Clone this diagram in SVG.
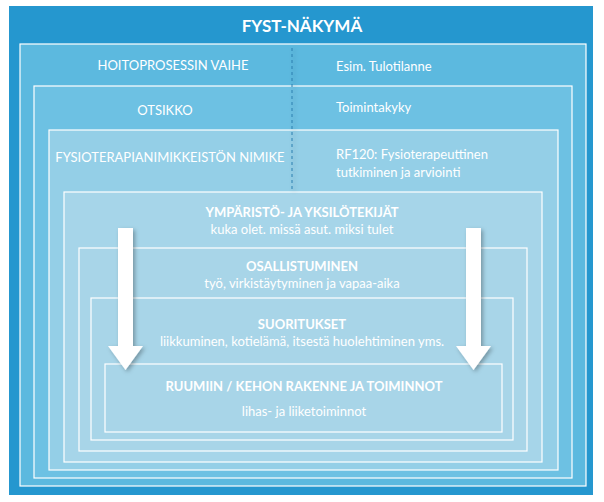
<svg xmlns="http://www.w3.org/2000/svg" width="604" height="502" viewBox="0 0 604 502">
<defs>
<style>
.b{stroke:#fff;stroke-width:1.2}
text{font-family:Lato,"Liberation Sans",sans-serif;fill:#fff;font-size:13px}
.c{text-anchor:middle}
.h{font-weight:bold}
</style>
<filter id="sh" x="-50%" y="-20%" width="200%" height="140%"><feDropShadow dx="2" dy="2" stdDeviation="2" flood-color="#000" flood-opacity="0.3"/></filter>
</defs>
<rect width="604" height="502" fill="#fff"/>
<g id="outer"><rect x="9" y="6" width="584" height="489" fill="#2597cf"/>
<text class="c h" x="302" y="32" style="font-size:17px">FYST-NÄKYMÄ</text></g>
<g id="hoito"><rect class="b" x="20" y="44" width="566" height="442" fill="#5cb9df"/>
<text class="c" x="173" y="70">HOITOPROSESSIN VAIHE</text><text x="336" y="71">Esim. Tulotilanne</text></g>
<g id="otsikko"><rect class="b" x="34" y="86" width="538" height="392" fill="#6dc1e3"/>
<text class="c" x="165" y="115">OTSIKKO</text><text x="336" y="112">Toimintakyky</text></g>
<g id="nimike"><rect class="b" x="49" y="130" width="509" height="340" fill="#94cfe7"/>
<text class="c" x="170" y="162">FYSIOTERAPIANIMIKKEISTÖN NIMIKE</text>
<text x="336" y="159">RF120: Fysioterapeuttinen</text><text x="336" y="177">tutkiminen ja arviointi</text></g>
<g id="ymparisto"><rect class="b" x="64" y="192" width="478" height="270" fill="#a6d5e9"/>
<text class="c h" x="302" y="217">YMPÄRISTÖ- JA YKSILÖTEKIJÄT</text><text class="c" x="302" y="234">kuka olet. missä asut. miksi tulet</text></g>
<g id="osallistuminen"><rect class="b" x="79" y="248" width="448" height="203" fill="#a8d5e8"/>
<text class="c h" x="302" y="271">OSALLISTUMINEN</text><text class="c" x="302" y="288">työ, virkistäytyminen ja vapaa-aika</text></g>
<g id="suoritukset"><rect class="b" x="91" y="298" width="422" height="142" fill="#a8d5e8"/>
<text class="c h" x="302" y="329">SUORITUKSET</text><text class="c" x="302" y="346">liikkuminen, kotielämä, itsestä huolehtiminen yms.</text></g>
<g id="ruumiin"><rect class="b" x="105" y="364" width="397" height="68" fill="#a8d5e8"/>
<text class="c h" x="304" y="391">RUUMIIN / KEHON RAKENNE JA TOIMINNOT</text><text class="c" x="304" y="416">lihas- ja liiketoiminnot</text></g>
<g id="connectors" fill="#fff" filter="url(#sh)">
<line x1="292" y1="48" x2="292" y2="190" stroke="#2a7fae" stroke-width="1" stroke-dasharray="3,3"/>
<polygon points="118,228 133,228 133,346 143,346 125.5,370 108,346 118,346"/>
<polygon points="466,228 481,228 481,346 491,346 473.5,370 456,346 466,346"/>
</g>
</svg>
